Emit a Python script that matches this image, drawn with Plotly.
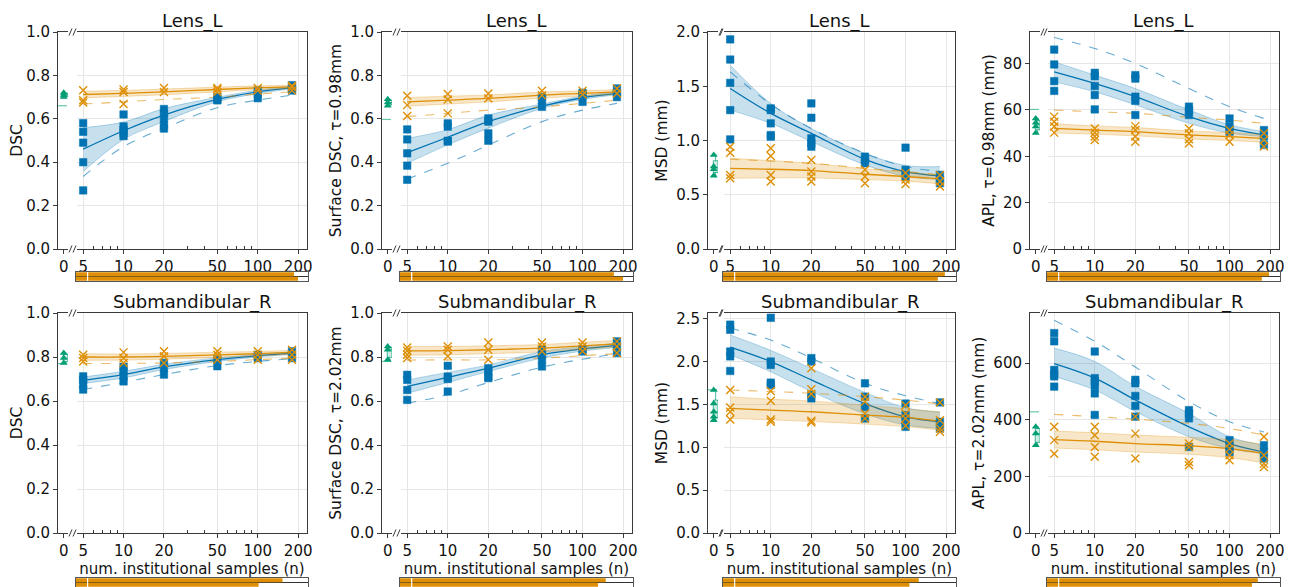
import plotly.graph_objects as go

W, H = 1295, 587          # browser window
OFF = 8                   # default page body margin
FIG_W, FIG_H = W - OFF, H - OFF
BLUE = '#0173b2'
ORANGE = '#de8f05'
GREEN = '#029e73'
FONT = 'DejaVu Sans'

N_VALUES = [5, 10, 20, 50, 100, 180]
X_TICKS = [5, 10, 20, 50, 100, 200]
X_MINOR = [6, 7, 8, 9, 30, 40, 60, 70, 80, 90]
X_LABEL = 'num. institutional samples (n)'

TITLES = ['Lens_L', 'Lens_L', 'Lens_L', 'Lens_L',
          'Submandibular_R', 'Submandibular_R', 'Submandibular_R', 'Submandibular_R']
Y_TITLES = ['DSC', 'Surface DSC, τ=0.98mm', 'MSD (mm)', 'APL, τ=0.98mm (mm)',
            'DSC', 'Surface DSC, τ=2.02mm', 'MSD (mm)', 'APL, τ=2.02mm (mm)']
Y_RANGES = [[0, 1], [0, 1], [0, 2], [0, 93.6], [0, 1], [0, 1], [0, 2.566], [0, 777]]
Y_TICKS = [[0, 0.2, 0.4, 0.6, 0.8, 1.0], [0, 0.2, 0.4, 0.6, 0.8, 1.0],
           [0, 0.5, 1.0, 1.5, 2.0], [0, 20, 40, 60, 80],
           [0, 0.2, 0.4, 0.6, 0.8, 1.0], [0, 0.2, 0.4, 0.6, 0.8, 1.0],
           [0, 0.5, 1.0, 1.5, 2.0, 2.5], [0, 200, 400, 600]]
Y_FORMATS = ['.1f', '.1f', '.1f', 'd', '.1f', '.1f', '.1f', 'd']

# ---------------- Panel 1: DSC, Lens_L ----------------
P1_BLUE_PTS = [[0.58, 0.54, 0.49, 0.40, 0.27], [0.62, 0.565, 0.55, 0.535, 0.52],
               [0.645, 0.625, 0.60, 0.57, 0.555], [0.70, 0.69, 0.685],
               [0.73, 0.715, 0.695], [0.755, 0.74, 0.73]]
P1_BLUE_MEAN = [0.46, 0.545, 0.617, 0.689, 0.724, 0.744]
P1_BLUE_LO = [0.357, 0.505, 0.587, 0.679, 0.716, 0.738]
P1_BLUE_HI = [0.559, 0.585, 0.647, 0.699, 0.732, 0.750]
P1_BLUE_DASH = [0.334, 0.472, 0.556, 0.651, 0.686, 0.709]
P1_ORANGE_PTS = [[0.732, 0.686, 0.675], [0.735, 0.724, 0.668], [0.742, 0.724],
                 [0.742, 0.735, 0.724], [0.742, 0.73], [0.752, 0.745, 0.73]]
P1_ORANGE_MEAN = [0.712, 0.717, 0.724, 0.735, 0.743, 0.747]
P1_ORANGE_LO = [0.697, 0.703, 0.711, 0.724, 0.734, 0.739]
P1_ORANGE_HI = [0.727, 0.731, 0.737, 0.746, 0.752, 0.755]
P1_ORANGE_DASH = [0.668, 0.678, 0.689, 0.70, 0.714, 0.724]
P1_GREEN_PTS = [0.72, 0.71, 0.70]
P1_GREEN_DASH = 0.66
P1_BARS = [0.94, 0.957]

# ---------------- Panel 2: Surface DSC 0.98, Lens_L ----------------
P2_BLUE_PTS = [[0.551, 0.505, 0.441, 0.384, 0.319], [0.579, 0.564, 0.499, 0.495],
               [0.602, 0.587, 0.533, 0.499], [0.70, 0.686, 0.655],
               [0.72, 0.709, 0.678], [0.74, 0.72, 0.70]]
P2_BLUE_MEAN = [0.444, 0.515, 0.587, 0.658, 0.697, 0.717]
P2_BLUE_LO = [0.395, 0.48, 0.557, 0.648, 0.689, 0.711]
P2_BLUE_HI = [0.51, 0.55, 0.617, 0.668, 0.705, 0.723]
P2_BLUE_DASH = [0.323, 0.395, 0.479, 0.587, 0.64, 0.671]
P2_ORANGE_PTS = [[0.706, 0.663, 0.613], [0.714, 0.689, 0.625], [0.717, 0.694],
                 [0.729, 0.709], [0.729, 0.712], [0.74, 0.717]]
P2_ORANGE_MEAN = [0.678, 0.686, 0.694, 0.709, 0.717, 0.724]
P2_ORANGE_LO = [0.658, 0.668, 0.678, 0.695, 0.705, 0.713]
P2_ORANGE_HI = [0.698, 0.704, 0.71, 0.723, 0.729, 0.735]
P2_ORANGE_DASH = [0.61, 0.625, 0.64, 0.655, 0.671, 0.686]
P2_GREEN_PTS = [0.69, 0.675, 0.66]
P2_GREEN_DASH = 0.597
P2_BARS = [0.918, 0.957]

# ---------------- Panel 3: MSD, Lens_L ----------------
P3_BLUE_PTS = [[1.932, 1.746, 1.531, 1.28, 1.01], [1.296, 1.28, 1.158, 1.05, 1.035],
               [1.342, 1.21, 1.02, 0.974, 0.943], [0.851, 0.821, 0.79],
               [0.934, 0.729, 0.668], [0.683, 0.637, 0.606]]
P3_BLUE_MEAN = [1.479, 1.25, 1.066, 0.827, 0.714, 0.674]
P3_BLUE_LO = [1.28, 1.158, 0.99, 0.775, 0.67, 0.64]
P3_BLUE_HI = [1.694, 1.34, 1.11, 0.88, 0.77, 0.76]
P3_BLUE_DASH = [1.632, 1.335, 1.11, 0.882, 0.76, 0.714]
P3_ORANGE_PTS = [[0.943, 0.888, 0.683, 0.652], [0.928, 0.858, 0.683, 0.622],
                 [0.821, 0.714, 0.668, 0.622], [0.73, 0.668, 0.606],
                 [0.70, 0.64, 0.60], [0.683, 0.622, 0.576]]
P3_ORANGE_MEAN = [0.744, 0.735, 0.723, 0.689, 0.668, 0.646]
P3_ORANGE_LO = [0.652, 0.655, 0.655, 0.64, 0.625, 0.60]
P3_ORANGE_HI = [0.836, 0.815, 0.79, 0.74, 0.71, 0.683]
P3_ORANGE_DASH = [0.827, 0.81, 0.79, 0.744, 0.714, 0.683]
P3_GREEN_PTS = [0.867, 0.76, 0.735, 0.674]
P3_GREEN_DASH = None
P3_BARS = [0.952, 0.922]

# ---------------- Panel 4: APL 0.98, Lens_L ----------------
P4_BLUE_PTS = [[86.0, 79.6, 72.4, 68.2], [76.0, 74.5, 70.3, 66.4, 60.2],
               [75.0, 73.5, 65.7, 63.9, 57.8], [61.4, 59.9, 57.8],
               [56.3, 53.0, 50.6], [51.3, 48.5, 44.9]]
P4_BLUE_MEAN = [76.4, 71.4, 65.7, 57.1, 52.0, 49.2]
P4_BLUE_LO = [72.1, 67.8, 62.2, 54.2, 50.0, 48.5]
P4_BLUE_HI = [80.7, 75.0, 69.2, 60.0, 53.6, 50.6]
P4_BLUE_DASH = [91.2, 86.5, 80.0, 69.2, 61.4, 56.3]
P4_ORANGE_PTS = [[57.1, 54.9, 52.8, 50.2], [52.0, 50.2, 48.5, 47.0],
                 [53.0, 51.3, 48.5, 46.3], [52.0, 49.9, 47.3, 45.6],
                 [51.3, 49.2, 46.3], [49.9, 47.0, 44.2]]
P4_ORANGE_MEAN = [52.0, 51.3, 50.6, 49.2, 48.5, 47.7]
P4_ORANGE_LO = [50.0, 49.5, 48.8, 47.5, 46.8, 46.0]
P4_ORANGE_HI = [54.0, 53.1, 52.4, 50.9, 50.2, 49.4]
P4_ORANGE_DASH = [59.9, 59.2, 58.5, 56.8, 55.6, 54.2]
P4_GREEN_PTS = [56.3, 54.5, 52.8, 50.0]
P4_GREEN_DASH = 60.2
P4_BARS = [0.953, 0.922]

# ---------------- Panel 5: DSC, Submandibular_R ----------------
P5_BLUE_PTS = [[0.712, 0.697, 0.674, 0.652], [0.755, 0.735, 0.712, 0.689],
               [0.773, 0.75, 0.72], [0.788, 0.758], [0.81, 0.795], [0.826, 0.795]]
P5_BLUE_MEAN = [0.694, 0.72, 0.755, 0.788, 0.806, 0.818]
P5_BLUE_LO = [0.679, 0.705, 0.743, 0.78, 0.80, 0.812]
P5_BLUE_HI = [0.709, 0.735, 0.767, 0.796, 0.812, 0.824]
P5_BLUE_DASH = [0.652, 0.685, 0.72, 0.761, 0.78, 0.792]
P5_ORANGE_PTS = [[0.81, 0.795, 0.78], [0.821, 0.795, 0.773], [0.826, 0.803, 0.773],
                 [0.826, 0.81, 0.788], [0.826, 0.81, 0.788], [0.833, 0.81, 0.788]]
P5_ORANGE_MEAN = [0.80, 0.80, 0.803, 0.81, 0.815, 0.821]
P5_ORANGE_LO = [0.785, 0.786, 0.79, 0.798, 0.805, 0.811]
P5_ORANGE_HI = [0.815, 0.814, 0.816, 0.822, 0.825, 0.831]
P5_ORANGE_DASH = [0.77, 0.771, 0.773, 0.78, 0.788, 0.795]
P5_GREEN_PTS = [0.818, 0.795, 0.773]
P5_GREEN_DASH = 0.77
P5_BARS = [0.89, 0.787]

# ---------------- Panel 6: Surface DSC 2.02, Submandibular_R ----------------
P6_BLUE_PTS = [[0.719, 0.696, 0.65, 0.605], [0.76, 0.711, 0.70, 0.643],
               [0.749, 0.734, 0.711, 0.704], [0.833, 0.81, 0.787, 0.757],
               [0.836, 0.825], [0.871, 0.848, 0.818]]
P6_BLUE_MEAN = [0.666, 0.707, 0.749, 0.81, 0.837, 0.853]
P6_BLUE_LO = [0.635, 0.684, 0.734, 0.795, 0.827, 0.843]
P6_BLUE_HI = [0.696, 0.73, 0.764, 0.825, 0.847, 0.863]
P6_BLUE_DASH = [0.59, 0.628, 0.684, 0.754, 0.79, 0.815]
P6_ORANGE_PTS = [[0.843, 0.828, 0.81, 0.795], [0.848, 0.833, 0.803],
                 [0.866, 0.833, 0.787], [0.866, 0.848, 0.826],
                 [0.866, 0.848, 0.826], [0.871, 0.848, 0.818]]
P6_ORANGE_MEAN = [0.828, 0.829, 0.833, 0.84, 0.851, 0.86]
P6_ORANGE_LO = [0.808, 0.81, 0.815, 0.823, 0.835, 0.845]
P6_ORANGE_HI = [0.848, 0.848, 0.851, 0.857, 0.867, 0.875]
P6_ORANGE_DASH = [0.786, 0.787, 0.787, 0.795, 0.806, 0.815]
P6_GREEN_PTS = [0.848, 0.833, 0.787]
P6_GREEN_DASH = 0.78
P6_BARS = [0.883, 0.85]

# ---------------- Panel 7: MSD, Submandibular_R ----------------
P7_BLUE_PTS = [[2.43, 2.37, 2.117, 2.06, 1.89], [2.51, 2.0, 1.96, 1.754, 1.727],
               [2.04, 2.0, 1.61, 1.57], [1.746, 1.59, 1.47, 1.336],
               [1.51, 1.375, 1.316, 1.238], [1.523, 1.297, 1.219]]
P7_BLUE_MEAN = [2.168, 2.0, 1.785, 1.51, 1.355, 1.297]
P7_BLUE_LO = [2.08, 1.88, 1.65, 1.39, 1.26, 1.22]
P7_BLUE_HI = [2.31, 2.13, 1.92, 1.64, 1.46, 1.41]
P7_BLUE_DASH = [2.39, 2.25, 2.04, 1.746, 1.60, 1.51]
P7_ORANGE_PTS = [[1.668, 1.465, 1.414, 1.324], [1.656, 1.543, 1.324, 1.297],
                 [1.922, 1.676, 1.62, 1.31, 1.29], [1.59, 1.53, 1.395, 1.336],
                 [1.49, 1.395, 1.336, 1.25], [1.523, 1.316, 1.219, 1.18]]
P7_ORANGE_MEAN = [1.453, 1.434, 1.414, 1.375, 1.348, 1.305]
P7_ORANGE_LO = [1.336, 1.32, 1.30, 1.27, 1.24, 1.20]
P7_ORANGE_HI = [1.59, 1.56, 1.54, 1.49, 1.45, 1.414]
P7_ORANGE_DASH = [1.668, 1.65, 1.63, 1.59, 1.55, 1.504]
P7_GREEN_PTS = [1.668, 1.51, 1.414, 1.355, 1.316]
P7_GREEN_DASH = 1.67
P7_BARS = [0.84, 0.80]

# ---------------- Panel 8: APL 2.02, Submandibular_R ----------------
P8_BLUE_PTS = [[706, 677, 576, 560, 553, 517], [641, 547, 535, 520, 493, 417],
               [541, 529, 484, 449, 411], [434, 422, 405, 304],
               [328, 304, 286], [310, 286, 263]]
P8_BLUE_MEAN = [598, 547, 470, 375, 316, 286]
P8_BLUE_LO = [553, 505, 429, 340, 298, 280]
P8_BLUE_HI = [653, 606, 518, 422, 340, 310]
P8_BLUE_DASH = [751, 677, 586, 464, 393, 357]
P8_ORANGE_PTS = [[375, 328, 280], [375, 345, 304, 269], [411, 351, 263],
                 [316, 304, 251, 239], [316, 298, 275, 257], [340, 275, 245, 233]]
P8_ORANGE_MEAN = [330, 324, 316, 308, 298, 280]
P8_ORANGE_LO = [300, 294, 286, 278, 266, 248]
P8_ORANGE_HI = [360, 354, 346, 338, 330, 312]
P8_ORANGE_DASH = [419, 411, 402, 387, 369, 346]
P8_GREEN_PTS = [375, 351, 310]
P8_GREEN_DASH = 428
P8_BARS = [0.905, 0.88]

BAR_MARK = 0.05

PANELS = []
for k in range(1, 9):
    g = globals()
    PANELS.append(dict(
        blue_pts=g[f'P{k}_BLUE_PTS'], blue_mean=g[f'P{k}_BLUE_MEAN'],
        blue_lo=g[f'P{k}_BLUE_LO'], blue_hi=g[f'P{k}_BLUE_HI'], blue_dash=g[f'P{k}_BLUE_DASH'],
        orange_pts=g[f'P{k}_ORANGE_PTS'], orange_mean=g[f'P{k}_ORANGE_MEAN'],
        orange_lo=g[f'P{k}_ORANGE_LO'], orange_hi=g[f'P{k}_ORANGE_HI'],
        orange_dash=g[f'P{k}_ORANGE_DASH'],
        green_pts=g[f'P{k}_GREEN_PTS'], green_dash=g[f'P{k}_GREEN_DASH'],
        bars=g[f'P{k}_BARS']))

# layout geometry (window pixels)
COLS = [(58, 68, 77, 307), (382, 392, 401, 632), (708, 718, 724, 955), (1030, 1040, 1048, 1279)]
ROWS = [(32, 249, 272, 281), (313, 533, 578, 588)]
TITLE_CENTER_Y = [21, 302]
ZERO_RANGE = [-0.6, 0.45]
MAIN_RANGE = [0.653, 2.367]


def fx(p):
    return max(0.0, min(1.0, (p - OFF) / FIG_W))


def fy(p):
    return max(0.0, min(1.0, 1 - (p - OFF) / FIG_H))


def nm(k):
    return '' if k == 1 else str(k)


def rgba(hexc, a):
    h = hexc.lstrip('#')
    return f'rgba({int(h[0:2], 16)},{int(h[2:4], 16)},{int(h[4:6], 16)},{a})'


fig = go.Figure()
layout = {}
shapes = []
annotations = []
SPINE = '#3a3a3a'
GRID = '#e6e6e6'
tickfont = dict(family=FONT, size=15, color='#111')

for i, P in enumerate(PANELS):
    row, col = divmod(i, 4)
    zl, zr, ml, mr = COLS[col]
    top, bot, btop, bbot = ROWS[row]
    az, am, ab = 3 * i + 1, 3 * i + 2, 3 * i + 3
    xz, xm, xb = 'x' + nm(az), 'x' + nm(am), 'x' + nm(ab)
    yz, ym, yb = 'y' + nm(az), 'y' + nm(am), 'y' + nm(ab)
    ydom = [fy(bot), fy(top)]

    # ---- zero sub-axis (pretrained model) ----
    if P['green_dash'] is not None:
        fig.add_trace(go.Scatter(x=ZERO_RANGE, y=[P['green_dash']] * 2, mode='lines',
                                 line=dict(color=rgba(GREEN, 0.6), width=1.2, dash='dash'),
                                 xaxis=xz, yaxis=yz, showlegend=False, hoverinfo='skip'))
    fig.add_trace(go.Box(y=P['green_pts'], x=[0.2] * len(P['green_pts']), width=0.5,
                         boxpoints=False, fillcolor=rgba(GREEN, 0.2),
                         line=dict(color=rgba(GREEN, 0.7), width=1),
                         xaxis=xz, yaxis=yz, showlegend=False))
    fig.add_trace(go.Scatter(x=[0] * len(P['green_pts']), y=P['green_pts'], mode='markers',
                             marker=dict(symbol='triangle-up', size=7, color=GREEN),
                             xaxis=xz, yaxis=yz, showlegend=False))

    # ---- main log axis ----
    for color, key in ((BLUE, 'blue'), (ORANGE, 'orange')):
        fig.add_trace(go.Scatter(x=N_VALUES, y=P[key + '_lo'], mode='lines',
                                 line=dict(color=rgba(color, 0.35), width=0.8, shape='spline'),
                                 xaxis=xm, yaxis=ym, showlegend=False, hoverinfo='skip'))
        fig.add_trace(go.Scatter(x=N_VALUES, y=P[key + '_hi'], mode='lines', fill='tonexty',
                                 fillcolor=rgba(color, 0.22),
                                 line=dict(color=rgba(color, 0.35), width=0.8, shape='spline'),
                                 xaxis=xm, yaxis=ym, showlegend=False, hoverinfo='skip'))
        fig.add_trace(go.Scatter(x=N_VALUES, y=P[key + '_dash'], mode='lines',
                                 line=dict(color=rgba(color, 0.6), width=1.1, dash='dash',
                                           shape='spline'),
                                 xaxis=xm, yaxis=ym, showlegend=False))
        fig.add_trace(go.Scatter(x=N_VALUES, y=P[key + '_mean'], mode='lines',
                                 line=dict(color=color, width=1.3, shape='spline'),
                                 xaxis=xm, yaxis=ym, showlegend=False))

    bx, by = [], []
    for n, vals in zip(N_VALUES, P['blue_pts']):
        bx += [n] * len(vals)
        by += vals
    fig.add_trace(go.Scatter(x=bx, y=by, mode='markers',
                             marker=dict(symbol='square', size=7.5, color=BLUE,
                                         line=dict(color=rgba(BLUE, 0.5), width=1)),
                             xaxis=xm, yaxis=ym, showlegend=False))
    ox, oy = [], []
    for n, vals in zip(N_VALUES, P['orange_pts']):
        ox += [n] * len(vals)
        oy += vals
    fig.add_trace(go.Scatter(x=ox, y=oy, mode='markers',
                             marker=dict(symbol='x-thin', size=8, color=ORANGE,
                                         line=dict(color=ORANGE, width=1.4)),
                             xaxis=xm, yaxis=ym, showlegend=False))

    # ---- bar strip ----
    fig.add_trace(go.Bar(x=P['bars'], y=[1, 0], orientation='h', width=0.84,
                         marker=dict(color=ORANGE, line=dict(width=0)),
                         xaxis=xb, yaxis=yb, showlegend=False))
    fig.add_trace(go.Scatter(x=[BAR_MARK, BAR_MARK], y=[-0.5, 1.5], mode='lines',
                             line=dict(color='white', width=1.2),
                             xaxis=xb, yaxis=yb, showlegend=False, hoverinfo='skip'))

    # ---- axes ----
    layout['xaxis' + nm(az)] = dict(
        domain=[fx(zl), fx(zr)], anchor=yz, range=ZERO_RANGE, showline=True, mirror=True,
        linecolor=SPINE, linewidth=1, tickvals=[0], ticktext=['0'], ticks='outside',
        ticklen=4, tickcolor=SPINE, tickfont=tickfont, showgrid=False, zeroline=False,
        automargin=False)
    layout['yaxis' + nm(az)] = dict(
        domain=ydom, anchor=xz, range=Y_RANGES[i], showline=True, linecolor=SPINE,
        linewidth=1, tickvals=Y_TICKS[i], tickformat=Y_FORMATS[i], ticks='outside',
        ticklen=4, tickcolor=SPINE, tickfont=tickfont, showgrid=False, zeroline=False,
        automargin=False,
        title=dict(text=Y_TITLES[i], font=dict(family=FONT, size=15.5, color='#111'),
                   standoff=4))
    xm_def = dict(
        domain=[fx(ml), fx(mr)], anchor=ym, type='log', range=MAIN_RANGE, showline=True,
        mirror=True, linecolor=SPINE, linewidth=1, tickvals=X_TICKS,
        ticktext=[str(t) for t in X_TICKS], ticks='outside', ticklen=4, tickcolor=SPINE,
        tickfont=tickfont, showgrid=True, gridcolor=GRID, gridwidth=1, zeroline=False,
        automargin=False,
        minor=dict(tickvals=X_MINOR, ticks='inside', ticklen=3, tickcolor=SPINE,
                   showgrid=False))
    if row == 1:
        xm_def['title'] = dict(text=X_LABEL, font=dict(family=FONT, size=15, color='#111'),
                               standoff=2)
    layout['xaxis' + nm(am)] = xm_def
    layout['yaxis' + nm(am)] = dict(
        domain=ydom, anchor=xm, side='right', range=Y_RANGES[i], showline=True,
        linecolor=SPINE, linewidth=1, tickvals=Y_TICKS[i], ticks='', showticklabels=False,
        showgrid=True, gridcolor=GRID, gridwidth=1, zeroline=False, automargin=False)
    layout['xaxis' + nm(ab)] = dict(
        domain=[fx(ml - 1), fx(mr + 1)], anchor=yb, range=[0, 1], showline=True, mirror=True,
        linecolor='#555', linewidth=1, showticklabels=False, ticks='', showgrid=False,
        zeroline=False, automargin=False)
    layout['yaxis' + nm(ab)] = dict(
        domain=[fy(bbot), fy(btop)], anchor=xb, range=[-0.5, 1.5], showline=True,
        mirror=True, linecolor='#555', linewidth=1, tickvals=[0.5], showticklabels=False,
        ticks='', showgrid=True, gridcolor='#333', gridwidth=1.2, zeroline=False,
        automargin=False)

    # subplot title
    annotations.append(dict(text=TITLES[i], x=fx((ml + mr) / 2), y=fy(TITLE_CENTER_Y[row]),
                            xref='paper', yref='paper', xanchor='center', yanchor='middle',
                            borderpad=0, showarrow=False,
                            font=dict(family=FONT, size=18, color='#111')))
    # axis-break marks
    for yy in (top, bot):
        for xx in (zr + 2.5, ml - 2.5):
            shapes.append(dict(type='line', xref='paper', yref='paper',
                               x0=fx(xx - 1.5), y0=fy(yy + 3.5), x1=fx(xx + 1.5),
                               y1=fy(yy - 3.5), line=dict(color=SPINE, width=1)))

fig.update_layout(
    width=FIG_W, height=FIG_H, margin=dict(l=0, r=0, t=0, b=0, autoexpand=False),
    autosize=False, paper_bgcolor='white', plot_bgcolor='white', showlegend=False,
    font=dict(family=FONT, color='#111'), barmode='overlay',
    shapes=shapes, annotations=annotations, **layout)

fig.write_html('out.html')
